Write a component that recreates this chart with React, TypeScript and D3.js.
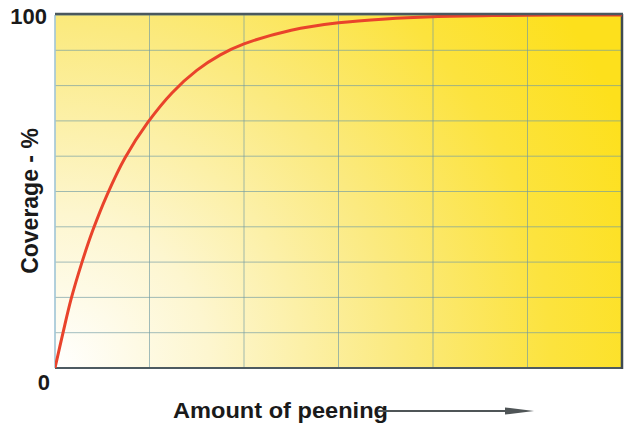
import React from "react";
import * as d3 from "d3";

const amount: number[] = [0, 0.085, 0.17, 0.286, 0.4, 0.55, 0.74, 0.98, 1.24, 1.5, 1.75, 2.0, 2.5, 3.0, 3.5, 4.0, 4.7, 5.3, 6.0];
const coverage: number[] = [0, 10, 19.5, 30, 39, 49, 59.5, 69.5, 78, 84.3, 88.7, 91.8, 95.7, 97.8, 98.9, 99.5, 99.85, 100, 100];
const xGridValues: number[] = [0, 1, 2, 3, 4, 5, 6];
const yGridValues: number[] = [0, 10, 20, 30, 40, 50, 60, 70, 80, 90, 100];
const yTickLabels: { v: number; label: string }[] = [
  { v: 100, label: "100" },
  { v: 0, label: "0" },
];
const yTitle = "Coverage - %";
const xTitle = "Amount of peening";

const W = 624;
const H = 425;
const L = 55;
const R = 622;
const T = 15;
const B = 368;

export default function App() {
  const x = d3.scaleLinear().domain([0, 6]).range([L, R]);
  const y = d3.scaleLinear().domain([0, 100]).range([B, T]);
  const pts: [number, number][] = amount.map((a, i) => [a, coverage[i]]);
  const line = d3
    .line<[number, number]>()
    .x((d) => x(d[0]))
    .y((d) => y(d[1]))
    .curve(d3.curveCatmullRom.alpha(0.5));

  const font = "'Liberation Sans', Arial, sans-serif";

  return (
    <svg
      width={W}
      height={H}
      style={{ position: "absolute", left: 0, top: 0, background: "#fff" }}
    >
      <defs>
        <radialGradient id="bg" gradientUnits="userSpaceOnUse" cx={L} cy={B} r={620}>
          <stop offset="0" stopColor="#ffffff" />
          <stop offset="0.25" stopColor="#fdf6cf" />
          <stop offset="0.55" stopColor="#fbea80" />
          <stop offset="0.8" stopColor="#fce33e" />
          <stop offset="1" stopColor="#fde01c" />
        </radialGradient>
        <clipPath id="plotclip">
          <rect x={L} y={T - 2} width={R - L} height={B - T + 2} />
        </clipPath>
      </defs>
      <rect x={L} y={T} width={R - L} height={B - T} fill="url(#bg)" />
      {yGridValues.map((v) => (
        <line
          key={"h" + v}
          x1={L}
          x2={R}
          y1={y(v)}
          y2={y(v)}
          stroke="#6f9aa3"
          strokeOpacity={0.65}
          strokeWidth={1}
        />
      ))}
      {xGridValues.map((v) => (
        <line
          key={"v" + v}
          x1={x(v)}
          x2={x(v)}
          y1={T}
          y2={B}
          stroke="#6f9aa3"
          strokeOpacity={0.65}
          strokeWidth={1}
        />
      ))}
      {/* borders */}
      <line x1={L} x2={L} y1={T} y2={B} stroke="#a9cbdb" strokeWidth={1.5} />
      <line x1={L} x2={R} y1={B} y2={B} stroke="#4d5a60" strokeWidth={2} />
      <line x1={R} x2={R} y1={T - 1} y2={B + 1} stroke="#3f4a50" strokeWidth={2.5} />
      <path
        d={line(pts) || ""}
        fill="none"
        stroke="#e9432b"
        strokeWidth={3}
        clipPath="url(#plotclip)"
      />
      <line x1={L} x2={R + 1} y1={T - 1} y2={T - 1} stroke="#4a585e" strokeWidth={2.5} />
      {yTickLabels.map((t) => (
        <text
          key={t.label}
          x={t.v === 100 ? 47 : 50}
          y={t.v === 100 ? 24 : 390}
          textAnchor="end"
          fontFamily={font}
          fontWeight="bold"
          fontSize={22}
          fill="#1a1a1a"
        >
          {t.label}
        </text>
      ))}
      <text
        transform="translate(38,201) rotate(-90)"
        textAnchor="middle"
        fontFamily={font}
        fontWeight="bold"
        fontSize={23}
        fill="#1a1a1a"
      >
        {yTitle}
      </text>
      <text
        x={173}
        y={418}
        fontFamily={font}
        fontWeight="bold"
        fontSize={22}
        fill="#1a1a1a"
        textLength={215}
        lengthAdjust="spacingAndGlyphs"
      >
        {xTitle}
      </text>
      <line x1={378} x2={510} y1={411} y2={411} stroke="#4f5557" strokeWidth={2} />
      <path d="M505,407.5 L534,411 L505,414.5 Z" fill="#4f5557" />
    </svg>
  );
}
